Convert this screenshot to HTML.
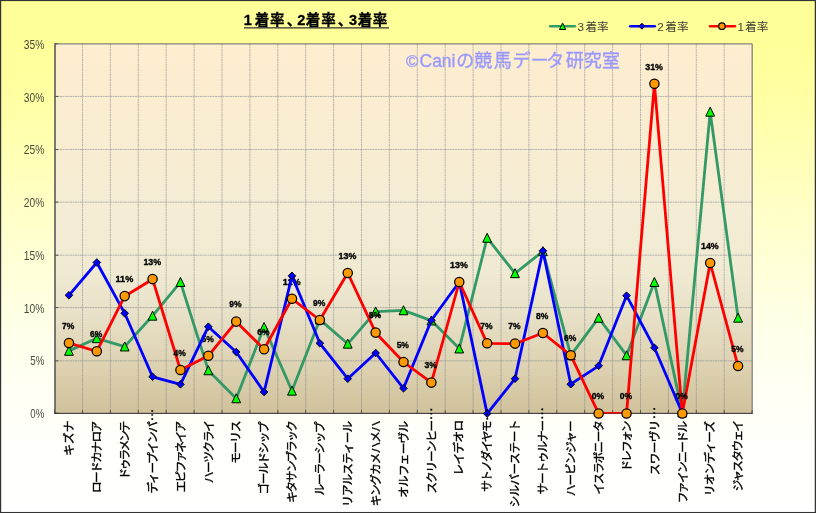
<!DOCTYPE html>
<html lang="ja"><head><meta charset="utf-8"><title>1着率、2着率、3着率</title>
<style>html,body{margin:0;padding:0;background:#fff}svg{display:block}text{font-family:"Liberation Sans","Noto Sans CJK JP",sans-serif}</style></head><body>
<svg width="816" height="513" viewBox="0 0 816 513">
<defs>
<linearGradient id="bg" x1="0" y1="0" x2="0" y2="1"><stop offset="0" stop-color="#FFFF99"/><stop offset="0.08" stop-color="#FFFF99"/><stop offset="0.18" stop-color="#FFFFA2"/><stop offset="0.27" stop-color="#FFFFB0"/><stop offset="0.41" stop-color="#FFFFC7"/><stop offset="0.5" stop-color="#FFFFD5"/><stop offset="0.67" stop-color="#FFFFEC"/><stop offset="0.76" stop-color="#FFFFF4"/><stop offset="0.85" stop-color="#FFFFFA"/><stop offset="1" stop-color="#FFFFFF"/></linearGradient>
<linearGradient id="pg" x1="0" y1="0" x2="0" y2="1">
<stop offset="0" stop-color="#FFEDCF"/><stop offset="0.225" stop-color="#F9EDD1"/><stop offset="0.50" stop-color="#F3ECD5"/><stop offset="0.62" stop-color="#F0EAD3"/><stop offset="0.73" stop-color="#E8E1C8"/><stop offset="0.885" stop-color="#DCD0AF"/><stop offset="0.97" stop-color="#D3C5A0"/><stop offset="1" stop-color="#D1C29C"/></linearGradient>
<clipPath id="pc"><rect x="50" y="40" width="710" height="373.6"/></clipPath>
</defs>
<rect x="0" y="0" width="816" height="513" fill="#333"/>
<rect x="1.2" y="1.1" width="813.55" height="510.85" fill="url(#bg)"/>
<rect x="55.0" y="43.8" width="697.2" height="369.4" fill="url(#pg)"/>
<path d="M55.0 360.85H752.2M55.0 307.55H752.2M55.0 255.20H752.2M55.0 202.10H752.2M55.0 149.50H752.2M55.0 96.45H752.2M82.50 43.8V413.2M110.40 43.8V413.2M138.30 43.8V413.2M166.20 43.8V413.2M194.10 43.8V413.2M222.00 43.8V413.2M249.90 43.8V413.2M277.80 43.8V413.2M305.70 43.8V413.2M333.60 43.8V413.2M361.50 43.8V413.2M389.40 43.8V413.2M417.30 43.8V413.2M445.20 43.8V413.2M473.10 43.8V413.2M501.00 43.8V413.2M528.90 43.8V413.2M556.80 43.8V413.2M584.70 43.8V413.2M612.60 43.8V413.2M640.50 43.8V413.2M668.40 43.8V413.2M696.30 43.8V413.2M724.20 43.8V413.2" fill="none" stroke="#7d8289" stroke-opacity="0.52" stroke-width="1" stroke-dasharray="2.5 0.5 1.5 0.5"/>
<path d="M55.0 43.9H752.2" fill="none" stroke="#6a6a6a" stroke-width="1"/><path d="M752.2 43.8V413.2" fill="none" stroke="#8a8a8a" stroke-width="1.4"/>
<path d="M55.0 413.20h3.4M55.0 360.85h3.4M55.0 307.55h3.4M55.0 255.20h3.4M55.0 202.10h3.4M55.0 149.50h3.4M55.0 96.45h3.4M55.0 43.80h3.4M54.60 413.2v-3.2M82.50 413.2v-3.2M110.40 413.2v-3.2M138.30 413.2v-3.2M166.20 413.2v-3.2M194.10 413.2v-3.2M222.00 413.2v-3.2M249.90 413.2v-3.2M277.80 413.2v-3.2M305.70 413.2v-3.2M333.60 413.2v-3.2M361.50 413.2v-3.2M389.40 413.2v-3.2M417.30 413.2v-3.2M445.20 413.2v-3.2M473.10 413.2v-3.2M501.00 413.2v-3.2M528.90 413.2v-3.2M556.80 413.2v-3.2M584.70 413.2v-3.2M612.60 413.2v-3.2M640.50 413.2v-3.2M668.40 413.2v-3.2M696.30 413.2v-3.2M724.20 413.2v-3.2M752.10 413.2v-3.2" fill="none" stroke="#5a5648" stroke-width="1"/>
<path d="M55.0 43.199999999999996V413.7" fill="none" stroke="#505050" stroke-width="1.5"/><path d="M54.25 413.34999999999997H752.8000000000001" fill="none" stroke="#262626" stroke-width="1"/>
<text x="406" y="67.4" font-size="18" fill="#9999FF" stroke="#9999FF" stroke-width="0.35"><tspan font-size="16.8">©</tspan><tspan x="419.5" font-size="17.5">Cani</tspan><tspan x="456.2 474.2 493.75 512.6 530.7 546.3 565.7 583.8 601.9">の競馬データ研究室</tspan></text>
<text x="44.3" y="418.20" font-size="13.1" fill="#4a4a3c" text-anchor="end" textLength="14.0" lengthAdjust="spacingAndGlyphs">0%</text>
<text x="44.3" y="365.43" font-size="13.1" fill="#4a4a3c" text-anchor="end" textLength="14.0" lengthAdjust="spacingAndGlyphs">5%</text>
<text x="44.3" y="312.66" font-size="13.1" fill="#4a4a3c" text-anchor="end" textLength="20.5" lengthAdjust="spacingAndGlyphs">10%</text>
<text x="44.3" y="259.89" font-size="13.1" fill="#4a4a3c" text-anchor="end" textLength="20.5" lengthAdjust="spacingAndGlyphs">15%</text>
<text x="44.3" y="207.11" font-size="13.1" fill="#4a4a3c" text-anchor="end" textLength="20.5" lengthAdjust="spacingAndGlyphs">20%</text>
<text x="44.3" y="154.34" font-size="13.1" fill="#4a4a3c" text-anchor="end" textLength="20.5" lengthAdjust="spacingAndGlyphs">25%</text>
<text x="44.3" y="101.57" font-size="13.1" fill="#4a4a3c" text-anchor="end" textLength="20.5" lengthAdjust="spacingAndGlyphs">30%</text>
<text x="44.3" y="48.80" font-size="13.1" fill="#4a4a3c" text-anchor="end" textLength="20.5" lengthAdjust="spacingAndGlyphs">35%</text>
<g font-size="14.5" font-weight="bold" fill="#000" stroke="#000" stroke-width="0.3">
<text x="243.7 254.7 270.05 286.7 297.2 305.7 321.15 337.7 348.9 357.7 372.75" y="25.3">1着率、2着率、3着率</text>
</g>
<path d="M244 27.8H389" stroke="#333" stroke-width="1.2"/>
<path d="M550.2 26.2H574.8" stroke="#339966" stroke-width="2.6" stroke-linecap="round"/><path d="M562.60 23.00L565.70 29.50H559.50Z" fill="#00FF00" stroke="#000" stroke-width="1" stroke-linejoin="miter"/>
<path d="M630.2 26.2H654.8" stroke="#0000FF" stroke-width="2.6" stroke-linecap="round"/><path d="M641.90 23.20L644.90 26.20L641.90 29.20L638.90 26.20Z" fill="#0000FF" stroke="#000" stroke-width="0.95"/>
<path d="M710.1 26.2H734.9" stroke="#FF0000" stroke-width="2.6" stroke-linecap="round"/><circle cx="721.90" cy="26.20" r="3.25" fill="#FF9900" stroke="#000" stroke-width="1.25"/>
<text x="577.4 585.4 597.1" y="31.1" font-size="11.7" fill="#3f3f32">3着率</text>
<text x="657.2 665.2 676.9" y="31.1" font-size="11.7" fill="#3f3f32">2着率</text>
<text x="737.6 745.1 756.8" y="31.1" font-size="11.7" fill="#3f3f32">1着率</text>
<path d="M68.94 350.90L96.82 338.30L124.70 346.60L152.58 315.80L180.46 282.10L208.34 370.40L236.22 398.40L264.10 327.10L291.98 390.80L319.86 319.60L347.74 343.80L375.62 311.60L403.50 310.40L431.38 320.60L459.26 348.60L487.14 237.90L515.02 273.30L542.90 251.30L570.78 355.30L598.66 317.90L626.54 355.40L654.42 282.10L682.30 412.60L710.18 111.80L738.06 317.80" clip-path="url(#pc)" fill="none" stroke="#339966" stroke-width="2.8" stroke-linejoin="round" stroke-linecap="round"/>
<path d="M68.94 346.25L73.34 355.25H64.54Z" fill="#00FF00" stroke="#000" stroke-width="1" stroke-linejoin="miter"/><path d="M96.82 333.65L101.22 342.65H92.42Z" fill="#00FF00" stroke="#000" stroke-width="1" stroke-linejoin="miter"/><path d="M124.70 341.95L129.10 350.95H120.30Z" fill="#00FF00" stroke="#000" stroke-width="1" stroke-linejoin="miter"/><path d="M152.58 311.15L156.98 320.15H148.18Z" fill="#00FF00" stroke="#000" stroke-width="1" stroke-linejoin="miter"/><path d="M180.46 277.45L184.86 286.45H176.06Z" fill="#00FF00" stroke="#000" stroke-width="1" stroke-linejoin="miter"/><path d="M208.34 365.75L212.74 374.75H203.94Z" fill="#00FF00" stroke="#000" stroke-width="1" stroke-linejoin="miter"/><path d="M236.22 393.75L240.62 402.75H231.82Z" fill="#00FF00" stroke="#000" stroke-width="1" stroke-linejoin="miter"/><path d="M264.10 322.45L268.50 331.45H259.70Z" fill="#00FF00" stroke="#000" stroke-width="1" stroke-linejoin="miter"/><path d="M291.98 386.15L296.38 395.15H287.58Z" fill="#00FF00" stroke="#000" stroke-width="1" stroke-linejoin="miter"/><path d="M319.86 314.95L324.26 323.95H315.46Z" fill="#00FF00" stroke="#000" stroke-width="1" stroke-linejoin="miter"/><path d="M347.74 339.15L352.14 348.15H343.34Z" fill="#00FF00" stroke="#000" stroke-width="1" stroke-linejoin="miter"/><path d="M375.62 306.95L380.02 315.95H371.22Z" fill="#00FF00" stroke="#000" stroke-width="1" stroke-linejoin="miter"/><path d="M403.50 305.75L407.90 314.75H399.10Z" fill="#00FF00" stroke="#000" stroke-width="1" stroke-linejoin="miter"/><path d="M431.38 315.95L435.78 324.95H426.98Z" fill="#00FF00" stroke="#000" stroke-width="1" stroke-linejoin="miter"/><path d="M459.26 343.95L463.66 352.95H454.86Z" fill="#00FF00" stroke="#000" stroke-width="1" stroke-linejoin="miter"/><path d="M487.14 233.25L491.54 242.25H482.74Z" fill="#00FF00" stroke="#000" stroke-width="1" stroke-linejoin="miter"/><path d="M515.02 268.65L519.42 277.65H510.62Z" fill="#00FF00" stroke="#000" stroke-width="1" stroke-linejoin="miter"/><path d="M542.90 246.65L547.30 255.65H538.50Z" fill="#00FF00" stroke="#000" stroke-width="1" stroke-linejoin="miter"/><path d="M570.78 350.65L575.18 359.65H566.38Z" fill="#00FF00" stroke="#000" stroke-width="1" stroke-linejoin="miter"/><path d="M598.66 313.25L603.06 322.25H594.26Z" fill="#00FF00" stroke="#000" stroke-width="1" stroke-linejoin="miter"/><path d="M626.54 350.75L630.94 359.75H622.14Z" fill="#00FF00" stroke="#000" stroke-width="1" stroke-linejoin="miter"/><path d="M654.42 277.45L658.82 286.45H650.02Z" fill="#00FF00" stroke="#000" stroke-width="1" stroke-linejoin="miter"/><path d="M682.30 407.95L686.70 416.95H677.90Z" fill="#00FF00" stroke="#000" stroke-width="1" stroke-linejoin="miter"/><path d="M710.18 107.15L714.58 116.15H705.78Z" fill="#00FF00" stroke="#000" stroke-width="1" stroke-linejoin="miter"/><path d="M738.06 313.15L742.46 322.15H733.66Z" fill="#00FF00" stroke="#000" stroke-width="1" stroke-linejoin="miter"/>
<path d="M68.94 295.30L96.82 262.50L124.70 313.30L152.58 376.80L180.46 384.30L208.34 326.70L236.22 352.00L264.10 392.00L291.98 275.80L319.86 343.30L347.74 378.70L375.62 353.00L403.50 388.30L431.38 320.30L459.26 282.00L487.14 413.60L515.02 378.70L542.90 250.80L570.78 384.20L598.66 365.80L626.54 295.70L654.42 347.80L682.30 413.00" clip-path="url(#pc)" fill="none" stroke="#0000FF" stroke-width="2.8" stroke-linejoin="round" stroke-linecap="round"/>
<path d="M68.94 291.50L72.74 295.30L68.94 299.10L65.14 295.30Z" fill="#0000FF" stroke="#000" stroke-width="0.95"/><path d="M96.82 258.70L100.62 262.50L96.82 266.30L93.02 262.50Z" fill="#0000FF" stroke="#000" stroke-width="0.95"/><path d="M124.70 309.50L128.50 313.30L124.70 317.10L120.90 313.30Z" fill="#0000FF" stroke="#000" stroke-width="0.95"/><path d="M152.58 373.00L156.38 376.80L152.58 380.60L148.78 376.80Z" fill="#0000FF" stroke="#000" stroke-width="0.95"/><path d="M180.46 380.50L184.26 384.30L180.46 388.10L176.66 384.30Z" fill="#0000FF" stroke="#000" stroke-width="0.95"/><path d="M208.34 322.90L212.14 326.70L208.34 330.50L204.54 326.70Z" fill="#0000FF" stroke="#000" stroke-width="0.95"/><path d="M236.22 348.20L240.02 352.00L236.22 355.80L232.42 352.00Z" fill="#0000FF" stroke="#000" stroke-width="0.95"/><path d="M264.10 388.20L267.90 392.00L264.10 395.80L260.30 392.00Z" fill="#0000FF" stroke="#000" stroke-width="0.95"/><path d="M291.98 272.00L295.78 275.80L291.98 279.60L288.18 275.80Z" fill="#0000FF" stroke="#000" stroke-width="0.95"/><path d="M319.86 339.50L323.66 343.30L319.86 347.10L316.06 343.30Z" fill="#0000FF" stroke="#000" stroke-width="0.95"/><path d="M347.74 374.90L351.54 378.70L347.74 382.50L343.94 378.70Z" fill="#0000FF" stroke="#000" stroke-width="0.95"/><path d="M375.62 349.20L379.42 353.00L375.62 356.80L371.82 353.00Z" fill="#0000FF" stroke="#000" stroke-width="0.95"/><path d="M403.50 384.50L407.30 388.30L403.50 392.10L399.70 388.30Z" fill="#0000FF" stroke="#000" stroke-width="0.95"/><path d="M431.38 316.50L435.18 320.30L431.38 324.10L427.58 320.30Z" fill="#0000FF" stroke="#000" stroke-width="0.95"/><path d="M459.26 278.20L463.06 282.00L459.26 285.80L455.46 282.00Z" fill="#0000FF" stroke="#000" stroke-width="0.95"/><path d="M487.14 409.80L490.94 413.60L487.14 417.40L483.34 413.60Z" fill="#0000FF" stroke="#000" stroke-width="0.95"/><path d="M515.02 374.90L518.82 378.70L515.02 382.50L511.22 378.70Z" fill="#0000FF" stroke="#000" stroke-width="0.95"/><path d="M542.90 247.00L546.70 250.80L542.90 254.60L539.10 250.80Z" fill="#0000FF" stroke="#000" stroke-width="0.95"/><path d="M570.78 380.40L574.58 384.20L570.78 388.00L566.98 384.20Z" fill="#0000FF" stroke="#000" stroke-width="0.95"/><path d="M598.66 362.00L602.46 365.80L598.66 369.60L594.86 365.80Z" fill="#0000FF" stroke="#000" stroke-width="0.95"/><path d="M626.54 291.90L630.34 295.70L626.54 299.50L622.74 295.70Z" fill="#0000FF" stroke="#000" stroke-width="0.95"/><path d="M654.42 344.00L658.22 347.80L654.42 351.60L650.62 347.80Z" fill="#0000FF" stroke="#000" stroke-width="0.95"/><path d="M682.30 409.20L686.10 413.00L682.30 416.80L678.50 413.00Z" fill="#0000FF" stroke="#000" stroke-width="0.95"/>
<path d="M68.94 343.00L96.82 351.30L124.70 296.20L152.58 279.20L180.46 370.00L208.34 355.80L236.22 321.70L264.10 349.30L291.98 298.80L319.86 320.00L347.74 273.00L375.62 332.70L403.50 362.00L431.38 382.70L459.26 282.00L487.14 343.30L515.02 343.70L542.90 333.00L570.78 355.30L598.66 413.50L626.54 413.50L654.42 83.80L682.30 413.50L710.18 263.00L738.06 366.10" clip-path="url(#pc)" fill="none" stroke="#FF0000" stroke-width="2.8" stroke-linejoin="round" stroke-linecap="round"/>
<circle cx="68.94" cy="342.90" r="4.65" fill="#FF9900" stroke="#000" stroke-width="1.25"/><circle cx="96.82" cy="351.20" r="4.65" fill="#FF9900" stroke="#000" stroke-width="1.25"/><circle cx="124.70" cy="296.10" r="4.65" fill="#FF9900" stroke="#000" stroke-width="1.25"/><circle cx="152.58" cy="279.10" r="4.65" fill="#FF9900" stroke="#000" stroke-width="1.25"/><circle cx="180.46" cy="369.90" r="4.65" fill="#FF9900" stroke="#000" stroke-width="1.25"/><circle cx="208.34" cy="355.70" r="4.65" fill="#FF9900" stroke="#000" stroke-width="1.25"/><circle cx="236.22" cy="321.60" r="4.65" fill="#FF9900" stroke="#000" stroke-width="1.25"/><circle cx="264.10" cy="349.20" r="4.65" fill="#FF9900" stroke="#000" stroke-width="1.25"/><circle cx="291.98" cy="298.70" r="4.65" fill="#FF9900" stroke="#000" stroke-width="1.25"/><circle cx="319.86" cy="319.90" r="4.65" fill="#FF9900" stroke="#000" stroke-width="1.25"/><circle cx="347.74" cy="272.90" r="4.65" fill="#FF9900" stroke="#000" stroke-width="1.25"/><circle cx="375.62" cy="332.60" r="4.65" fill="#FF9900" stroke="#000" stroke-width="1.25"/><circle cx="403.50" cy="361.90" r="4.65" fill="#FF9900" stroke="#000" stroke-width="1.25"/><circle cx="431.38" cy="382.60" r="4.65" fill="#FF9900" stroke="#000" stroke-width="1.25"/><circle cx="459.26" cy="281.90" r="4.65" fill="#FF9900" stroke="#000" stroke-width="1.25"/><circle cx="487.14" cy="343.20" r="4.65" fill="#FF9900" stroke="#000" stroke-width="1.25"/><circle cx="515.02" cy="343.60" r="4.65" fill="#FF9900" stroke="#000" stroke-width="1.25"/><circle cx="542.90" cy="332.90" r="4.65" fill="#FF9900" stroke="#000" stroke-width="1.25"/><circle cx="570.78" cy="355.20" r="4.65" fill="#FF9900" stroke="#000" stroke-width="1.25"/><circle cx="598.66" cy="413.40" r="4.65" fill="#FF9900" stroke="#000" stroke-width="1.25"/><circle cx="626.54" cy="413.40" r="4.65" fill="#FF9900" stroke="#000" stroke-width="1.25"/><circle cx="654.42" cy="83.70" r="4.65" fill="#FF9900" stroke="#000" stroke-width="1.25"/><circle cx="682.30" cy="413.40" r="4.65" fill="#FF9900" stroke="#000" stroke-width="1.25"/><circle cx="710.18" cy="262.90" r="4.65" fill="#FF9900" stroke="#000" stroke-width="1.25"/><circle cx="738.06" cy="366.00" r="4.65" fill="#FF9900" stroke="#000" stroke-width="1.25"/>
<g font-size="9.1" font-weight="bold" fill="#000" stroke="#000" stroke-width="0.35" text-anchor="middle">
<text x="68.24" y="328.70" textLength="12.3" lengthAdjust="spacingAndGlyphs">7%</text>
<text x="96.12" y="337.00" textLength="12.3" lengthAdjust="spacingAndGlyphs">6%</text>
<text x="124.40" y="281.90" textLength="17.7" lengthAdjust="spacingAndGlyphs">11%</text>
<text x="152.28" y="264.90" textLength="17.7" lengthAdjust="spacingAndGlyphs">13%</text>
<text x="179.76" y="355.70" textLength="12.3" lengthAdjust="spacingAndGlyphs">4%</text>
<text x="207.64" y="341.50" textLength="12.3" lengthAdjust="spacingAndGlyphs">5%</text>
<text x="235.52" y="307.40" textLength="12.3" lengthAdjust="spacingAndGlyphs">9%</text>
<text x="263.40" y="335.00" textLength="12.3" lengthAdjust="spacingAndGlyphs">6%</text>
<text x="291.68" y="284.50" textLength="17.7" lengthAdjust="spacingAndGlyphs">11%</text>
<text x="319.16" y="305.70" textLength="12.3" lengthAdjust="spacingAndGlyphs">9%</text>
<text x="347.44" y="258.70" textLength="17.7" lengthAdjust="spacingAndGlyphs">13%</text>
<text x="374.92" y="318.40" textLength="12.3" lengthAdjust="spacingAndGlyphs">8%</text>
<text x="402.80" y="347.70" textLength="12.3" lengthAdjust="spacingAndGlyphs">5%</text>
<text x="430.68" y="368.40" textLength="12.3" lengthAdjust="spacingAndGlyphs">3%</text>
<text x="458.96" y="267.70" textLength="17.7" lengthAdjust="spacingAndGlyphs">13%</text>
<text x="486.44" y="329.00" textLength="12.3" lengthAdjust="spacingAndGlyphs">7%</text>
<text x="514.32" y="329.40" textLength="12.3" lengthAdjust="spacingAndGlyphs">7%</text>
<text x="542.20" y="318.70" textLength="12.3" lengthAdjust="spacingAndGlyphs">8%</text>
<text x="570.08" y="341.00" textLength="12.3" lengthAdjust="spacingAndGlyphs">6%</text>
<text x="597.96" y="399.20" textLength="12.3" lengthAdjust="spacingAndGlyphs">0%</text>
<text x="625.84" y="399.20" textLength="12.3" lengthAdjust="spacingAndGlyphs">0%</text>
<text x="654.12" y="69.50" textLength="17.7" lengthAdjust="spacingAndGlyphs">31%</text>
<text x="681.60" y="399.20" textLength="12.3" lengthAdjust="spacingAndGlyphs">0%</text>
<text x="709.88" y="248.70" textLength="17.7" lengthAdjust="spacingAndGlyphs">14%</text>
<text x="737.36" y="351.80" textLength="12.3" lengthAdjust="spacingAndGlyphs">5%</text>
</g>
<clipPath id="lc"><rect x="61.1" y="320.7" width="14.3" height="9.5"/><rect x="89.0" y="329.0" width="14.3" height="9.5"/><rect x="114.6" y="273.9" width="19.7" height="9.5"/><rect x="142.4" y="256.9" width="19.7" height="9.5"/><rect x="172.6" y="347.7" width="14.3" height="9.5"/><rect x="200.5" y="333.5" width="14.3" height="9.5"/><rect x="228.4" y="299.4" width="14.3" height="9.5"/><rect x="256.3" y="327.0" width="14.3" height="9.5"/><rect x="281.8" y="276.5" width="19.7" height="9.5"/><rect x="312.0" y="297.7" width="14.3" height="9.5"/><rect x="337.6" y="250.7" width="19.7" height="9.5"/><rect x="367.8" y="310.4" width="14.3" height="9.5"/><rect x="395.7" y="339.7" width="14.3" height="9.5"/><rect x="423.5" y="360.4" width="14.3" height="9.5"/><rect x="449.1" y="259.7" width="19.7" height="9.5"/><rect x="479.3" y="321.0" width="14.3" height="9.5"/><rect x="507.2" y="321.4" width="14.3" height="9.5"/><rect x="535.0" y="310.7" width="14.3" height="9.5"/><rect x="562.9" y="333.0" width="14.3" height="9.5"/><rect x="590.8" y="391.2" width="14.3" height="9.5"/><rect x="618.7" y="391.2" width="14.3" height="9.5"/><rect x="644.3" y="61.5" width="19.7" height="9.5"/><rect x="674.4" y="391.2" width="14.3" height="9.5"/><rect x="700.0" y="240.7" width="19.7" height="9.5"/><rect x="730.2" y="343.8" width="14.3" height="9.5"/></clipPath>
<g clip-path="url(#lc)"><path d="M68.94 295.30L96.82 262.50L124.70 313.30L152.58 376.80L180.46 384.30L208.34 326.70L236.22 352.00L264.10 392.00L291.98 275.80L319.86 343.30L347.74 378.70L375.62 353.00L403.50 388.30L431.38 320.30L459.26 282.00L487.14 413.60L515.02 378.70L542.90 250.80L570.78 384.20L598.66 365.80L626.54 295.70L654.42 347.80L682.30 413.00" fill="none" stroke="#0000FF" stroke-width="2.8" stroke-linejoin="round" stroke-linecap="round"/><path d="M68.94 291.50L72.74 295.30L68.94 299.10L65.14 295.30Z" fill="#0000FF" stroke="#000" stroke-width="0.95"/><path d="M96.82 258.70L100.62 262.50L96.82 266.30L93.02 262.50Z" fill="#0000FF" stroke="#000" stroke-width="0.95"/><path d="M124.70 309.50L128.50 313.30L124.70 317.10L120.90 313.30Z" fill="#0000FF" stroke="#000" stroke-width="0.95"/><path d="M152.58 373.00L156.38 376.80L152.58 380.60L148.78 376.80Z" fill="#0000FF" stroke="#000" stroke-width="0.95"/><path d="M180.46 380.50L184.26 384.30L180.46 388.10L176.66 384.30Z" fill="#0000FF" stroke="#000" stroke-width="0.95"/><path d="M208.34 322.90L212.14 326.70L208.34 330.50L204.54 326.70Z" fill="#0000FF" stroke="#000" stroke-width="0.95"/><path d="M236.22 348.20L240.02 352.00L236.22 355.80L232.42 352.00Z" fill="#0000FF" stroke="#000" stroke-width="0.95"/><path d="M264.10 388.20L267.90 392.00L264.10 395.80L260.30 392.00Z" fill="#0000FF" stroke="#000" stroke-width="0.95"/><path d="M291.98 272.00L295.78 275.80L291.98 279.60L288.18 275.80Z" fill="#0000FF" stroke="#000" stroke-width="0.95"/><path d="M319.86 339.50L323.66 343.30L319.86 347.10L316.06 343.30Z" fill="#0000FF" stroke="#000" stroke-width="0.95"/><path d="M347.74 374.90L351.54 378.70L347.74 382.50L343.94 378.70Z" fill="#0000FF" stroke="#000" stroke-width="0.95"/><path d="M375.62 349.20L379.42 353.00L375.62 356.80L371.82 353.00Z" fill="#0000FF" stroke="#000" stroke-width="0.95"/><path d="M403.50 384.50L407.30 388.30L403.50 392.10L399.70 388.30Z" fill="#0000FF" stroke="#000" stroke-width="0.95"/><path d="M431.38 316.50L435.18 320.30L431.38 324.10L427.58 320.30Z" fill="#0000FF" stroke="#000" stroke-width="0.95"/><path d="M459.26 278.20L463.06 282.00L459.26 285.80L455.46 282.00Z" fill="#0000FF" stroke="#000" stroke-width="0.95"/><path d="M487.14 409.80L490.94 413.60L487.14 417.40L483.34 413.60Z" fill="#0000FF" stroke="#000" stroke-width="0.95"/><path d="M515.02 374.90L518.82 378.70L515.02 382.50L511.22 378.70Z" fill="#0000FF" stroke="#000" stroke-width="0.95"/><path d="M542.90 247.00L546.70 250.80L542.90 254.60L539.10 250.80Z" fill="#0000FF" stroke="#000" stroke-width="0.95"/><path d="M570.78 380.40L574.58 384.20L570.78 388.00L566.98 384.20Z" fill="#0000FF" stroke="#000" stroke-width="0.95"/><path d="M598.66 362.00L602.46 365.80L598.66 369.60L594.86 365.80Z" fill="#0000FF" stroke="#000" stroke-width="0.95"/><path d="M626.54 291.90L630.34 295.70L626.54 299.50L622.74 295.70Z" fill="#0000FF" stroke="#000" stroke-width="0.95"/><path d="M654.42 344.00L658.22 347.80L654.42 351.60L650.62 347.80Z" fill="#0000FF" stroke="#000" stroke-width="0.95"/><path d="M682.30 409.20L686.10 413.00L682.30 416.80L678.50 413.00Z" fill="#0000FF" stroke="#000" stroke-width="0.95"/></g>
<text transform="translate(73.14 455.73) rotate(-90)" font-size="11.6" fill="#000" stroke="#000" stroke-width="0.4" textLength="34.98" lengthAdjust="spacing">キズナ</text>
<text transform="translate(101.02 493.09) rotate(-90)" font-size="11.6" fill="#000" stroke="#000" stroke-width="0.4" textLength="72.24" lengthAdjust="spacing">ロードカナロア</text>
<text transform="translate(128.90 479.52) rotate(-90)" font-size="11.6" fill="#000" stroke="#000" stroke-width="0.4" textLength="58.82" lengthAdjust="spacing">ドゥラメンテ</text>
<text transform="translate(156.78 493.48) rotate(-90)" font-size="11.6" fill="#000" stroke="#000" stroke-width="0.4"><tspan textLength="72.46" lengthAdjust="spacing">ディープインパ</tspan><tspan dx="0.8" dy="-3.8" font-size="13">…</tspan></text>
<text transform="translate(184.66 492.25) rotate(-90)" font-size="11.6" fill="#000" stroke="#000" stroke-width="0.4" textLength="71.40" lengthAdjust="spacing">エピファネイア</text>
<text transform="translate(212.54 483.24) rotate(-90)" font-size="11.6" fill="#000" stroke="#000" stroke-width="0.4" textLength="63.14" lengthAdjust="spacing">ハーツクライ</text>
<text transform="translate(240.42 463.65) rotate(-90)" font-size="11.6" fill="#000" stroke="#000" stroke-width="0.4" textLength="43.15" lengthAdjust="spacing">モーリス</text>
<text transform="translate(268.30 494.59) rotate(-90)" font-size="11.6" fill="#000" stroke="#000" stroke-width="0.4" textLength="73.32" lengthAdjust="spacing">ゴールドシップ</text>
<text transform="translate(296.18 502.73) rotate(-90)" font-size="11.6" fill="#000" stroke="#000" stroke-width="0.4" textLength="82.71" lengthAdjust="spacing">キタサンブラック</text>
<text transform="translate(324.06 495.45) rotate(-90)" font-size="11.6" fill="#000" stroke="#000" stroke-width="0.4" textLength="74.18" lengthAdjust="spacing">ルーラーシップ</text>
<text transform="translate(351.94 506.67) rotate(-90)" font-size="11.6" fill="#000" stroke="#000" stroke-width="0.4" textLength="85.70" lengthAdjust="spacing">リアルスティール</text>
<text transform="translate(379.82 506.32) rotate(-90)" font-size="11.6" fill="#000" stroke="#000" stroke-width="0.4" textLength="85.70" lengthAdjust="spacing">キングカメハメハ</text>
<text transform="translate(407.70 497.75) rotate(-90)" font-size="11.6" fill="#000" stroke="#000" stroke-width="0.4" textLength="76.78" lengthAdjust="spacing">オルフェーヴル</text>
<text transform="translate(435.58 493.40) rotate(-90)" font-size="11.6" fill="#000" stroke="#000" stroke-width="0.4"><tspan textLength="73.63" lengthAdjust="spacing">スクリーンヒー</tspan><tspan dx="0.8" dy="-3.8" font-size="13">…</tspan></text>
<text transform="translate(463.46 475.58) rotate(-90)" font-size="11.6" fill="#000" stroke="#000" stroke-width="0.4" textLength="55.58" lengthAdjust="spacing">レイデオロ</text>
<text transform="translate(491.34 491.73) rotate(-90)" font-size="11.6" fill="#000" stroke="#000" stroke-width="0.4"><tspan textLength="71.40" lengthAdjust="spacing">サトノダイヤモ</tspan><tspan dx="0.8" dy="-3.8" font-size="13">…</tspan></text>
<text transform="translate(519.22 507.32) rotate(-90)" font-size="11.6" fill="#000" stroke="#000" stroke-width="0.4" textLength="87.60" lengthAdjust="spacing">シルバーステート</text>
<text transform="translate(547.10 494.42) rotate(-90)" font-size="11.6" fill="#000" stroke="#000" stroke-width="0.4"><tspan textLength="74.65" lengthAdjust="spacing">サートゥルナー</tspan><tspan dx="0.8" dy="-3.8" font-size="13">…</tspan></text>
<text transform="translate(574.98 496.28) rotate(-90)" font-size="11.6" fill="#000" stroke="#000" stroke-width="0.4" textLength="75.78" lengthAdjust="spacing">ハービンジャー</text>
<text transform="translate(602.86 494.48) rotate(-90)" font-size="11.6" fill="#000" stroke="#000" stroke-width="0.4" textLength="74.46" lengthAdjust="spacing">イスラボニータ</text>
<text transform="translate(630.74 471.52) rotate(-90)" font-size="11.6" fill="#000" stroke="#000" stroke-width="0.4" textLength="50.90" lengthAdjust="spacing">ドレフォン</text>
<text transform="translate(658.62 475.17) rotate(-90)" font-size="11.6" fill="#000" stroke="#000" stroke-width="0.4"><tspan textLength="55.57" lengthAdjust="spacing">スワーヴリ</tspan><tspan dx="0.8" dy="-3.8" font-size="13">…</tspan></text>
<text transform="translate(686.50 503.23) rotate(-90)" font-size="11.6" fill="#000" stroke="#000" stroke-width="0.4" textLength="82.26" lengthAdjust="spacing">ファインニードル</text>
<text transform="translate(714.38 495.98) rotate(-90)" font-size="11.6" fill="#000" stroke="#000" stroke-width="0.4" textLength="75.01" lengthAdjust="spacing">リオンディーズ</text>
<text transform="translate(742.26 491.17) rotate(-90)" font-size="11.6" fill="#000" stroke="#000" stroke-width="0.4" textLength="71.30" lengthAdjust="spacing">ジャスタウェイ</text>
</svg></body></html>
